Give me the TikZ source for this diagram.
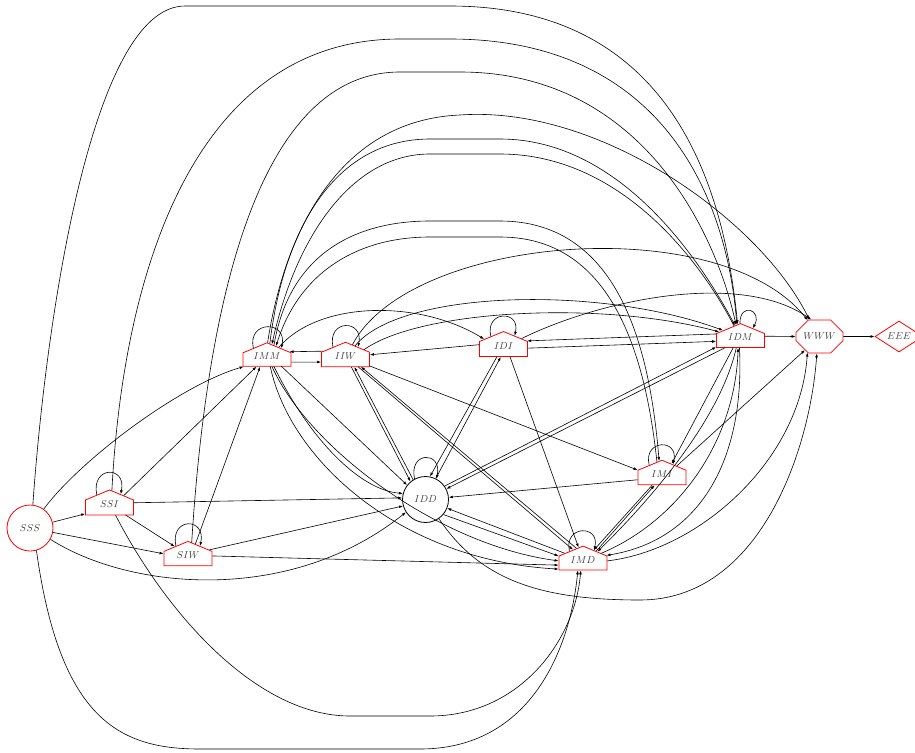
\documentclass[tikz,border=0pt]{standalone}
\usetikzlibrary{shapes.symbols,shapes.geometric,shapes.misc,arrows.meta}
\begin{document}
\begin{tikzpicture}[x=1pt,y=-1pt,
  lab/.style={font=\normalsize, text=black!75},
  house/.style={signal, signal to=north, signal pointer angle=135, draw=red, line width=0.8pt, minimum width=48pt, minimum height=19pt, inner sep=0pt, text height=6.8pt, text depth=6pt, lab},
  circ/.style={circle, minimum size=46pt, inner sep=0pt, line width=0.8pt, lab},
  e/.style={line width=0.6pt, -{Latex[length=4pt,width=2.8pt]}},
]
\useasboundingbox (0,0) rectangle (915,752);
% nodes
\node[circ, draw=red] (SSS) at (30,528) {$SSS$};
\node[house] (SSI) at (109.5,507.5) {$SSI$};
\node[house] (SIW) at (188,558.5) {$SIW$};
\node[house] (IMM) at (267,359.5) {$IMM$};
\node[house] (IIW) at (345.5,359.5) {$IIW$};
\node[house] (IDI) at (503.5,349) {$IDI$};
\node[house] (IDM) at (740.5,340.5) {$IDM$};
\node[house] (IMI) at (662,477.5) {$IMI$};
\node[house] (IMD) at (583,563) {$IMD$};
\node[circ, draw=black] (IDD) at (425.5,499.5) {$IDD$};
\node[chamfered rectangle, chamfered rectangle xsep=9pt, chamfered rectangle ysep=9pt, draw=red, line width=0.8pt, minimum width=47pt, minimum height=33pt, inner sep=0pt, lab] (WWW) at (819.5,336.5) {$WWW$};
\node[diamond, draw=red, line width=0.8pt, minimum width=48pt, minimum height=31pt, inner sep=0pt, lab] (EEE) at (899,336.5) {$EEE$};

% SSS
\draw[e] (SSS.83) .. controls (45,330) and (90,6) .. (185,6) -- (450,6) .. controls (680,6) and (725,200) .. (IDM.100);
\draw[e] (SSS.54) .. controls (80,460) and (180,385) .. (IMM.197);
\draw[e] (SSS) -- (SSI);
\draw[e] (SSS) -- (SIW);
\draw[e] (SSS.331) .. controls (130,590) and (290,605) .. (IDD.213);
\draw[e] (SSS.286) .. controls (60,720) and (120,749) .. (200,749) -- (420,749) .. controls (530,749) and (570,650) .. (IMD.235);
% SSI
\draw[e] (SSI.135) .. controls +(-6,-29) and +(6,-29) .. (SSI.50);
\draw[e] (SSI.82) .. controls (124,260) and (200,39) .. (400,39) -- (450,39) .. controls (650,39) and (725,180) .. (IDM.103);
\draw[e] (SSI.40) -- (IMM.214);
\draw[e] (SSI.11) -- (IDD.176);
\draw[e] (SSI.335) -- (SIW.138);
\draw[e] (SSI.308) .. controls (170,620) and (260,716) .. (350,716) -- (430,716) .. controls (520,716) and (575,640) .. (IMD.253);
% SIW
\draw[e] (SIW.134) .. controls +(-6,-29) and +(6,-29) .. (SIW.46);
\draw[e] (SIW.77) .. controls (205,330) and (250,72) .. (400,72) -- (460,72) .. controls (640,72) and (715,230) .. (IDM.106);
\draw[e] (SIW.63) -- (IMM.226);
\draw[e] (SIW.22) -- (IDD.196);
\draw[e] (SIW.6) -- (IMD.185);
% IMM
\draw[e] (IMM.140) .. controls +(-6,-28) and +(6,-28) .. (IMM.38);
\draw[e] (IMM.354) -- (IIW.186);
\draw[e] (IIW.160) -- (IMM.19);
\draw[e] (IMM.46) .. controls (320,300) and (420,300) .. (IDI.153);
\draw[e] (IMM.88) .. controls (285,230) and (340,120) .. (460,115) .. controls (600,105) and (760,220) .. (WWW.121);
\draw[e] (IMM.80) .. controls (285,220) and (340,139) .. (430,139) -- (500,139) .. controls (620,139) and (700,260) .. (IDM.110);
\draw[e] (IDM.114) .. controls (700,260) and (620,154) .. (500,154) -- (430,154) .. controls (350,154) and (295,240) .. (IMM.72);
\draw[e] (IMM.64) .. controls (290,250) and (360,221) .. (430,221) -- (500,221) .. controls (620,221) and (650,350) .. (IMI.100);
\draw[e] (IMI.108) .. controls (645,350) and (610,237) .. (500,237) -- (430,237) .. controls (360,237) and (300,270) .. (IMM.56);
\draw[e] (IMM.335) -- (IDD.142);
\draw[e] (IMM.315) .. controls (310,440) and (360,490) .. (IDD.165);
\draw[e] (IMM.295) .. controls (290,460) and (400,560) .. (IMD.194);
\draw[e] (IMM.305) .. controls (310,450) and (440,545) .. (IMD.175);
% IIW
\draw[e] (IIW.135) .. controls +(-6,-28) and +(6,-28) .. (IIW.45);
\draw[e] (IIW.65) .. controls (410,235) and (720,210) .. (WWW.126);
\draw[e] (IIW.55) .. controls (400,290) and (600,285) .. (IDM.150);
\draw[e] (IIW.28) .. controls (420,310) and (600,300) .. (IDM.158);
\draw[e] (IIW.345) -- (IMI.163);
\draw[e] (IDI.170) -- (IIW.11);
\draw[e] (IIW.308) -- (IDD.130);
\draw[e] (IDD.122) -- (IIW.320);
\draw[e] (IIW.330) -- (IMD.127);
\draw[e] (IMD.114) -- (IIW.335);
% IDI
\draw[e] (IDI.135) .. controls +(-6,-26) and +(6,-26) .. (IDI.50);
\draw[e] (IDI.30) .. controls (600,300) and (740,270) .. (WWW.116);
\draw[e] (IDM.165) -- (IDI.19);
\draw[e] (IDI.2) -- (IDM.182);
\draw[e] (IDI.230) -- (IDD.79);
\draw[e] (IDD.64) -- (IDI.251);
\draw[e] (IDI.310) -- (IMD.106);
% IDM
\draw[e] (IDM.92) .. controls +(0,-22) and +(10,-18) .. (IDM.45);
\draw[e] (IDM.10) -- (WWW.west);
\draw[e] (IDM.225) -- (IMI.55);
\draw[e] (IDM.240) .. controls (720,420) and (650,500) .. (IMD.38);
\draw[e] (IMD.28) .. controls (680,520) and (735,440) .. (IDM.252);
\draw[e] (IDM.262) .. controls (745,460) and (700,540) .. (IMD.18);
\draw[e] (IDD.35) -- (IDM.195);
\draw[e] (IDM.205) -- (IDD.27);
% IMI
\draw[e] (IMI.136) .. controls +(-6,-26) and +(6,-26) .. (IMI.50);
\draw[e] (IMI.38) -- (WWW.223);
\draw[e] (IMI) -- (IDD);
\draw[e] (IMI.218) -- (IMD.50);
\draw[e] (IMD.42) -- (IMI.226);
% IMD
\draw[e] (IMD.139) .. controls +(-6,-26) and +(6,-26) .. (IMD.49);
\draw[e] (IMD.5) .. controls (700,550) and (800,460) .. (WWW.233);
\draw[e] (IDD.320) -- (IMD.164);
\draw[e] (IMD.152) -- (IDD.338);
% IDD
\draw[e] (IDD.118) .. controls +(-6,-28) and +(6,-28) .. (IDD.62);
\draw[e] (IDD.305) .. controls (480,580) and (540,600) .. (640,600) .. controls (760,600) and (810,450) .. (WWW.261);
% WWW
\draw[e] (WWW) -- (EEE);
\end{tikzpicture}
\end{document}
